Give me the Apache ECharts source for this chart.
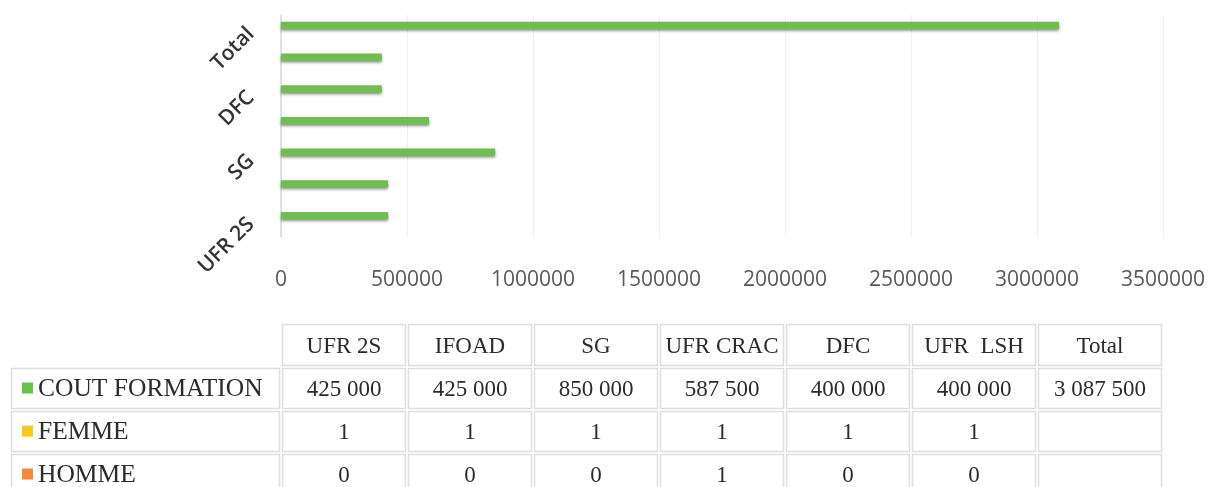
<!DOCTYPE html>
<html>
<head>
<meta charset="utf-8">
<script src="https://cdn.jsdelivr.net/npm/echarts@6/dist/echarts.min.js"></script>
<style>
    html, body { margin: 0; padding: 0; background: #fff; }
    #echarts { width: 1212px; height: 487px; }
</style>
</head>
<body>
<div id="echarts"></div>
<script>
// donnees
var categories = ['UFR 2S', 'IFOAD', 'SG', 'UFR CRAC', 'DFC', 'UFR  LSH', 'Total'];
var seriesNames = ['COUT FORMATION', 'FEMME', 'HOMME'];
var coutFormation = [425000, 425000, 850000, 587500, 400000, 400000, 3087500];
var femme = [1, 1, 1, 1, 1, 1, null];
var homme = [0, 0, 0, 1, 0, 0, null];
var xTicks = [0, 500000, 1000000, 1500000, 2000000, 2500000, 3000000, 3500000];

var colors = ['#6ec04d', '#f7c81f', '#f08a3c'];

function fmtNum(v) {
    if (v === null || v === undefined) return '';
    return String(v).replace(/\B(?=(\d{3})+(?!\d))/g, ' ');
}

var myChart = echarts.init(document.getElementById('echarts'));

// tableau de donnees sous le graphique
var plotLeft = 281, colW = 126;
var headTop = 323, headH = 44, rowTop = 367, rowH = 43;
var labelLeft = 10;
var serif = '"Liberation Serif", "DejaVu Serif", serif';
var graphic = [];

function cell(x, y, w, h) {
    graphic.push({
        type: 'rect',
        shape: {x: x + 1.5, y: y + 1.5, width: w - 3, height: h - 3},
        style: {fill: '#fff', stroke: '#dedede', lineWidth: 1.5},
        silent: true
    });
}
function txt(s, x, y, align, size) {
    graphic.push({
        type: 'text',
        x: x, y: y,
        style: {text: s, fill: '#2b2b2b', font: (size || 23) + 'px ' + serif,
            align: align || 'center', verticalAlign: 'middle'},
        silent: true
    });
}

categories.forEach(function (c, i) {
    var x = plotLeft + colW * i;
    cell(x, headTop, colW, headH);
    txt(c, x + colW / 2, headTop + headH / 2 + 2);
});

var rows = [coutFormation, femme, homme];
rows.forEach(function (vals, r) {
    var y = rowTop + rowH * r;
    cell(labelLeft, y, plotLeft - labelLeft, rowH);
    graphic.push({
        type: 'rect',
        shape: {x: 22, y: y + rowH / 2 - 6, width: 11, height: 11},
        style: {fill: colors[r]},
        silent: true
    });
    txt(seriesNames[r], 38, y + rowH / 2 + 1, 'left', 25.5);
    vals.forEach(function (v, i) {
        var x = plotLeft + colW * i;
        cell(x, y, colW, rowH);
        txt(fmtNum(v), x + colW / 2, y + rowH / 2 + 1);
    });
});

var barShadow = {shadowBlur: 3, shadowColor: 'rgba(0, 0, 0, 0.45)', shadowOffsetY: 2};

var option = {
    backgroundColor: '#fff',
    animation: false,
    grid: {
        left: plotLeft,
        right: 1212 - 1163,
        top: 15,
        bottom: 487 - 237,
        containLabel: false
    },
    xAxis: {
        type: 'value',
        min: xTicks[0],
        max: xTicks[xTicks.length - 1],
        interval: xTicks[1] - xTicks[0],
        axisLine: {show: false},
        axisTick: {show: false},
        splitLine: {lineStyle: {color: '#efefef', width: 1}},
        axisLabel: {
            margin: 33,
            color: '#595959',
            fontFamily: '"Open Sans", sans-serif',
            fontSize: 21,
            formatter: function (v) { return String(v); }
        }
    },
    yAxis: {
        type: 'category',
        data: categories,
        axisLine: {lineStyle: {color: '#d9d9d9', width: 1.5}},
        axisTick: {show: false},
        axisLabel: {
            interval: 1,
            rotate: 45,
            margin: 30,
            color: '#333333',
            fontFamily: '"Open Sans", sans-serif',
            fontWeight: 600,
            fontSize: 21
        }
    },
    series: [
        {
            name: seriesNames[0],
            type: 'bar',
            barWidth: 7,
            barGap: '-20%',
            itemStyle: Object.assign({color: colors[0]}, barShadow),
            data: coutFormation
        },
        {
            name: seriesNames[1],
            type: 'bar',
            barWidth: 7,
            barGap: '-20%',
            itemStyle: {color: colors[1]},
            data: femme
        },
        {
            name: seriesNames[2],
            type: 'bar',
            barWidth: 7,
            barGap: '-20%',
            itemStyle: {color: colors[2]},
            data: homme
        }
    ],
    graphic: graphic
};
myChart.setOption(option);
</script>
</body>
</html>
